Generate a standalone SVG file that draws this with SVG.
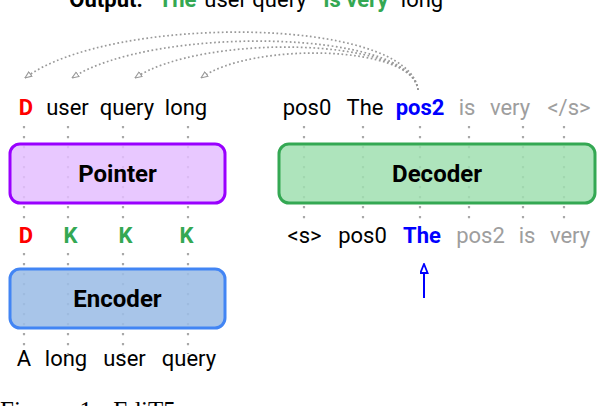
<svg xmlns="http://www.w3.org/2000/svg" width="598" height="406" viewBox="0 0 598 406">
<style>
text{font-family:Roboto,"Liberation Sans",Arial,sans-serif;font-size:22px;text-anchor:middle;fill:#000}
.b{font-weight:bold}
.red{fill:#ff0000;font-weight:bold}
.grn{fill:#34a853;font-weight:bold}
.blu{fill:#0000ff;font-weight:bold}
.gry{fill:#9e9e9e}
.lbl{font-size:24px;font-weight:bold}
.vd{stroke:#a8a8a8;stroke-width:2.2;stroke-dasharray:2.2 7.8;fill:none}
.arc{stroke:#999999;stroke-width:1.7;stroke-dasharray:1.7 2.5;fill:none;marker-end:url(#ah)}
.box{stroke-width:3}
</style>
<defs>
<marker id="ah" viewBox="0 0 12 10" refX="11" refY="5" markerWidth="8" markerHeight="7" orient="auto" markerUnits="userSpaceOnUse">
<path d="M1,1 L11,5 L1,9 Z" fill="#fff" stroke="#999" stroke-width="1.6"/>
</marker>
<marker id="bh" viewBox="0 0 12 10" refX="11" refY="5" markerWidth="12" markerHeight="9" orient="auto" markerUnits="userSpaceOnUse">
<path d="M1,1 L11,5 L1,9 Z" fill="#fff" stroke="#0000ff" stroke-width="2"/>
</marker>
</defs>
<rect width="598" height="406" fill="#fff"/>

<g id="title">
<text x="106" y="6.5" class="b">Output:</text>
<text x="177.5" y="6.5" class="grn">The</text>
<text x="255.5" y="6.5">user query</text>
<text x="356" y="6.5" class="grn">is very</text>
<text x="422" y="6.5">long</text>
</g>

<g id="guides">
<path class="vd" d="M24,126V222M68,126V222M123,126V222M188,126V222M24,253V354M68,253V354M123,253V354M188,253V354"/>
<path class="vd" d="M304,126V222M363,126V222M420,126V222M469,126V222M523,126V222M564,126V222"/>
</g>

<g id="pointer">
<rect class="box" x="10" y="144" width="215" height="59" rx="10" fill="#e4beff" fill-opacity="0.85" stroke="#9900ff"/>
<text x="117.5" y="181.5" class="lbl">Pointer</text>
</g>
<g id="decoder">
<rect class="box" x="279" y="144" width="316" height="59" rx="10" fill="#a0dfb0" fill-opacity="0.85" stroke="#34a853"/>
<text x="437" y="181.5" class="lbl">Decoder</text>
</g>
<g id="encoder">
<rect class="box" x="10" y="269" width="215" height="59" rx="10" fill="#9cbde6" fill-opacity="0.88" stroke="#4285f4"/>
<text x="117.5" y="306.5" class="lbl">Encoder</text>
</g>

<g id="pointer-output">
<text x="26" y="115" class="red">D</text>
<text x="67.5" y="115">user</text>
<text x="127" y="115">query</text>
<text x="186" y="115">long</text>
</g>
<g id="decoder-output">
<text x="307" y="115">pos0</text>
<text x="365" y="115">The</text>
<text x="420" y="115" class="blu">pos2</text>
<text x="467" y="115" class="gry">is</text>
<text x="510" y="115" class="gry">very</text>
<text x="569" y="115" class="gry">&lt;/s&gt;</text>
</g>
<g id="tags">
<text x="26" y="243" class="red">D</text>
<text x="70.5" y="243" class="grn">K</text>
<text x="125.5" y="243" class="grn">K</text>
<text x="186.5" y="243" class="grn">K</text>
</g>
<g id="decoder-input">
<text x="304.5" y="243">&lt;s&gt;</text>
<text x="362.5" y="243">pos0</text>
<text x="422" y="243" class="blu">The</text>
<text x="480.5" y="243" class="gry">pos2</text>
<text x="527" y="243" class="gry">is</text>
<text x="570" y="243" class="gry">very</text>
</g>
<g id="encoder-input">
<text x="24" y="366">A</text>
<text x="66" y="366">long</text>
<text x="124.5" y="366">user</text>
<text x="189" y="366">query</text>
</g>

<g id="connectors">
<path class="arc" d="M418,90 C410,16 110,14 25,78"/>
<path class="arc" d="M418,90 C411,28 150,26 72,78"/>
<path class="arc" d="M418,90 C412,36 200,34 135,78"/>
<path class="arc" d="M418,90 C414,44 250,42 201,78"/>
<path d="M424,298 V264" stroke="#0000ff" stroke-width="2" fill="none" marker-end="url(#bh)"/>
</g>

<g id="caption">
<text x="0" y="419" style="font-family:'Liberation Serif','Times New Roman',serif;font-size:25px;text-anchor:start;word-spacing:8px">Figure 1: EdiT5</text>
</g>
</svg>
